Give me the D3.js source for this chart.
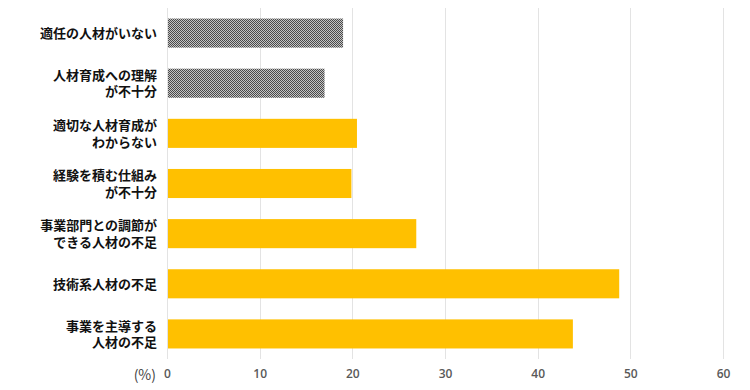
<!DOCTYPE html>
<html><head><meta charset="utf-8">
<script src="https://cdn.jsdelivr.net/npm/d3@7"></script>
<style>
body{margin:0;background:#fff;}
svg{display:block;}
</style></head>
<body>
<svg id="c" width="750" height="390"></svg>
<script>
const categories = [
  ["適任の人材がいない"],
  ["人材育成への理解","が不十分"],
  ["適切な人材育成が","わからない"],
  ["経験を積む仕組み","が不十分"],
  ["事業部門との調節が","できる人材の不足"],
  ["技術系人材の不足"],
  ["事業を主導する","人材の不足"]
];
const values = [19.0, 17.0, 20.5, 19.9, 26.9, 48.8, 43.8];
const patterned = [true, true, false, false, false, false, false];
const xTicks = [0, 10, 20, 30, 40, 50, 60];
const unitLabel = "(%)";

const svg = d3.select("#c");
const defs = svg.append("defs");
const pat = defs.append("pattern").attr("id","checker").attr("patternUnits","userSpaceOnUse")
  .attr("width",2).attr("height",2);
pat.append("rect").attr("width",2).attr("height",2).attr("fill","#c4c4c4");
pat.append("rect").attr("width",1).attr("height",1).attr("fill","#4a4a4a");
pat.append("rect").attr("x",1).attr("y",1).attr("width",1).attr("height",1).attr("fill","#4a4a4a");

const mLeft = 167, mRight = 723, mTop = 8, mBottom = 359;
const x = d3.scaleLinear().domain([0,60]).range([mLeft,mRight]);
const y = d3.scaleBand().domain(d3.range(categories.length)).range([mTop,mBottom]).paddingInner(0.42).paddingOuter(0.21);

// grid
svg.append("g").selectAll("line").data(xTicks).join("line")
  .attr("x1",d=>Math.round(x(d))+0.5).attr("x2",d=>Math.round(x(d))+0.5)
  .attr("y1",mTop).attr("y2",mBottom)
  .attr("stroke","#e3e3e3").attr("stroke-width",1);

// bars
svg.append("g").selectAll("rect").data(values).join("rect")
  .attr("x",x(0)+1).attr("y",(d,i)=>y(i))
  .attr("width",d=>x(d)-x(0)-1).attr("height",y.bandwidth())
  .attr("fill",(d,i)=>patterned[i]?"url(#checker)":"#ffc000");

// x axis labels
const xa = svg.append("g").attr("transform",`translate(0,${mBottom})`)
  .call(d3.axisBottom(x).tickValues(xTicks).tickSize(0).tickPadding(10).tickFormat(d3.format("d")));
xa.select(".domain").remove();
xa.selectAll("text").attr("font-family","'Open Sans', 'Noto Sans', sans-serif")
  .attr("font-size",12).attr("fill","#595959").attr("font-weight",600);

svg.append("text").attr("x",156).attr("y",380).attr("text-anchor","end")
  .attr("font-family","'Noto Sans CJK JP', sans-serif").attr("font-size",14).attr("fill","#444")
  .text(unitLabel);

// category labels (each line its own text element)
const lab = svg.append("g").selectAll("g").data(categories).join("g");
lab.each(function(lines,i){
  const cy = y(i)+y.bandwidth()/2;
  const lh = 16.5;
  const y0 = cy - (lines.length-1)*lh/2 + 5;
  d3.select(this).selectAll("text").data(lines).join("text")
    .attr("text-anchor","end")
    .attr("font-family","'Liberation Sans', 'Noto Sans CJK JP', sans-serif")
    .attr("font-size",13).attr("font-weight",700).attr("fill","#111")
    .attr("x",157).attr("y",(d,j)=>y0+j*lh).text(d=>d);
});
</script>
</body></html>
